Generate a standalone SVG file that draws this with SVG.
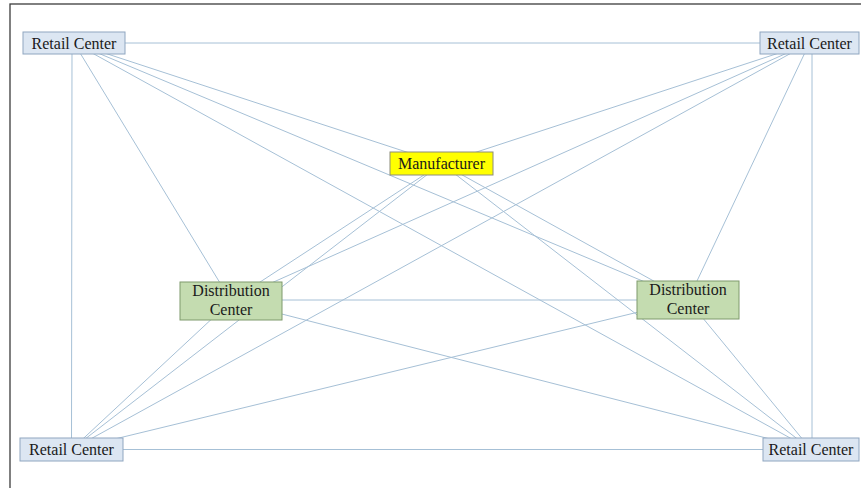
<svg xmlns="http://www.w3.org/2000/svg" width="861" height="488" viewBox="0 0 861 488">
<style>
.edge{stroke:#a6c0d6;stroke-width:1;fill:none}
.retail rect{fill:#dce6f2;stroke:#8fa6c0;stroke-width:1}
.mfr rect{fill:#ffff00;stroke:#8c8c7a;stroke-width:1}
.dc rect{fill:#c4dcb0;stroke:#7f9a6c;stroke-width:1}
text{font-family:"Liberation Serif","Times New Roman",serif;font-size:16px;fill:#1a1a1a;text-anchor:middle}
</style>
<rect x="0" y="0" width="861" height="488" fill="#ffffff"/>
<rect x="10" y="4" width="860" height="500" fill="none" stroke="#3c3c3c" stroke-width="1.3"/>
<g id="connectors">
<line class="edge" x1="74" y1="43" x2="809.5" y2="43"/>
<line class="edge" x1="74" y1="43" x2="441.5" y2="163.5"/>
<line class="edge" x1="74" y1="43" x2="231" y2="301"/>
<line class="edge" x1="74" y1="43" x2="688" y2="300"/>
<line class="edge" x1="72" y1="43" x2="71.5" y2="449.5"/>
<line class="edge" x1="74" y1="43" x2="811" y2="449.5"/>
<line class="edge" x1="809.5" y1="43" x2="441.5" y2="163.5"/>
<line class="edge" x1="809.5" y1="43" x2="231" y2="301"/>
<line class="edge" x1="809.5" y1="43" x2="688" y2="300"/>
<line class="edge" x1="809.5" y1="43" x2="71.5" y2="449.5"/>
<line class="edge" x1="812" y1="43" x2="812" y2="449.5"/>
<line class="edge" x1="441.5" y1="163.5" x2="231" y2="301"/>
<line class="edge" x1="441.5" y1="163.5" x2="688" y2="300"/>
<line class="edge" x1="441.5" y1="163.5" x2="71.5" y2="449.5"/>
<line class="edge" x1="441.5" y1="163.5" x2="811" y2="449.5"/>
<line class="edge" x1="231" y1="300" x2="688" y2="300"/>
<line class="edge" x1="231" y1="301" x2="71.5" y2="449.5"/>
<line class="edge" x1="231" y1="301" x2="811" y2="449.5"/>
<line class="edge" x1="688" y1="300" x2="71.5" y2="449.5"/>
<line class="edge" x1="688" y1="300" x2="811" y2="449.5"/>
<line class="edge" x1="71.5" y1="449.5" x2="811" y2="449.5"/>
</g>
<g id="retail-tl" class="retail"><rect x="23" y="32" width="102" height="22"/><text x="74" y="48.5">Retail Center</text></g>
<g id="retail-tr" class="retail"><rect x="760" y="32" width="99" height="22"/><text x="809.5" y="48.5">Retail Center</text></g>
<g id="manufacturer" class="mfr"><rect x="390" y="152" width="103" height="23"/><text x="441.5" y="169">Manufacturer</text></g>
<g id="dc-left" class="dc"><rect x="180" y="282" width="102" height="38"/><text x="231" y="296">Distribution</text><text x="231" y="315">Center</text></g>
<g id="dc-right" class="dc"><rect x="637" y="281" width="102" height="38"/><text x="688" y="295">Distribution</text><text x="688" y="314">Center</text></g>
<g id="retail-bl" class="retail"><rect x="20" y="438" width="103" height="23"/><text x="71.5" y="455">Retail Center</text></g>
<g id="retail-br" class="retail"><rect x="763" y="438" width="96" height="23"/><text x="811" y="455">Retail Center</text></g>
</svg>
